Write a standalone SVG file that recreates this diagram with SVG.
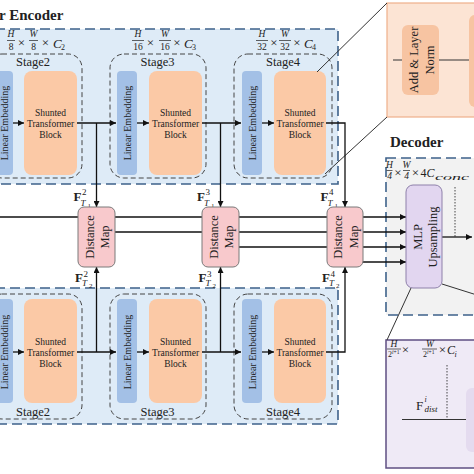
<svg xmlns="http://www.w3.org/2000/svg" width="474" height="474" viewBox="0 0 474 474">
<defs>
<marker id="ah" viewBox="0 0 10 10" refX="10" refY="5" markerWidth="7" markerHeight="6" orient="auto" markerUnits="userSpaceOnUse"><path d="M0,0 L10,5 L0,10 z" fill="#111"/></marker>
</defs>
<style>
text{font-family:"Liberation Serif","Times New Roman",serif;fill:#222}
.enc{fill:#deebf7;stroke:#3e628a;stroke-width:1.6;stroke-dasharray:10 5}
.dec{fill:#f2f2f2;stroke:#3e628a;stroke-width:1.6;stroke-dasharray:10 5}
.stage{fill:none;stroke:#444;stroke-width:1;stroke-dasharray:5 3}
.le{fill:#a3c0e6}
.stb{fill:#fbc9a6}
.dm{fill:#f8c9cc;stroke:#7a7a7a;stroke-width:1}
.mlp{fill:#e2d6f0;stroke:#8e80aa;stroke-width:1}
.ln{stroke:#111;stroke-width:1.3;fill:none}
.zl{stroke:#333;stroke-width:1;fill:none}
.tb{font-size:9.5px;text-anchor:middle}
.st{font-size:12.5px;text-anchor:middle}
.rot{font-size:10px;text-anchor:middle;dominant-baseline:central}
.rot2{font-size:12.5px;text-anchor:middle;dominant-baseline:central}
.fr{font-size:9.5px;text-anchor:middle}
.m{font-style:italic}
.x{font-size:13px;text-anchor:middle}
.ttl{font-size:15px;font-weight:bold}
.fb{font-size:13px;font-weight:bold}
.sm{font-size:9px}
.bar{stroke:#222;stroke-width:0.7}
</style>

<!-- Top encoder -->
<g id="encoder-top">
<rect class="enc" x="-20" y="29" width="358" height="155"/>
<text class="ttl" x="-1" y="20">r Encoder</text>
<text class="fr m" x="11" y="37">H</text><line class="bar" x1="7" y1="40.5" x2="15" y2="40.5"/><text class="fr" x="11" y="50">8</text>
<text class="x" x="21.5" y="46.5">×</text>
<text class="fr m" x="33.5" y="37">W</text><line class="bar" x1="29" y1="40.5" x2="38" y2="40.5"/><text class="fr" x="33.5" y="50">8</text>
<text class="x" x="45.5" y="46.5">×</text>
<text x="53" y="48" font-size="13" font-style="italic">C</text><text x="61" y="50" font-size="8">2</text>
<text class="fr m" x="138" y="37">H</text><line class="bar" x1="132" y1="40.5" x2="144" y2="40.5"/><text class="fr" x="138" y="50">16</text>
<text class="x" x="150.5" y="46.5">×</text>
<text class="fr m" x="165" y="37">W</text><line class="bar" x1="159" y1="40.5" x2="171" y2="40.5"/><text class="fr" x="165" y="50">16</text>
<text class="x" x="177" y="46.5">×</text>
<text x="184" y="48" font-size="13" font-style="italic">C</text><text x="192" y="50" font-size="8">3</text>
<text class="fr m" x="262" y="37">H</text><line class="bar" x1="256" y1="40.5" x2="268" y2="40.5"/><text class="fr" x="262" y="50">32</text>
<text class="x" x="274" y="46.5">×</text>
<text class="fr m" x="285" y="37">W</text><line class="bar" x1="279" y1="40.5" x2="291" y2="40.5"/><text class="fr" x="285" y="50">32</text>
<text class="x" x="297" y="46.5">×</text>
<text x="304" y="48" font-size="13" font-style="italic">C</text><text x="312" y="50" font-size="8">4</text>
</g>

<g id="stage2-top">
<rect class="stage" x="-12" y="54" width="94" height="124" rx="14"/>
<text class="st" x="33" y="66">Stage2</text>
<rect class="le" x="-6" y="71" width="19" height="104" rx="4"/>
<text class="rot" transform="translate(4,123) rotate(-90)">Linear Embedding</text>
<rect class="stb" x="24" y="71" width="53" height="104" rx="8"/>
<text class="tb" x="50.5" y="115.5">Shunted</text><text class="tb" x="50.5" y="126.5">Transformer</text><text class="tb" x="50.5" y="137.5">Block</text>
</g>
<g id="stage3-top">
<rect class="stage" x="110" y="54" width="96" height="124" rx="14"/>
<text class="st" x="157.5" y="66">Stage3</text>
<rect class="le" x="117" y="71" width="20" height="104" rx="4"/>
<text class="rot" transform="translate(127,123) rotate(-90)">Linear Embedding</text>
<rect class="stb" x="149" y="71" width="53" height="104" rx="8"/>
<text class="tb" x="175.5" y="115.5">Shunted</text><text class="tb" x="175.5" y="126.5">Transformer</text><text class="tb" x="175.5" y="137.5">Block</text>
</g>
<g id="stage4-top">
<rect class="stage" x="234" y="54" width="98" height="124" rx="14"/>
<text class="st" x="283" y="66">Stage4</text>
<rect class="le" x="242" y="71" width="20" height="104" rx="4"/>
<text class="rot" transform="translate(252,123) rotate(-90)">Linear Embedding</text>
<rect class="stb" x="274" y="71" width="52" height="104" rx="8"/>
<text class="tb" x="300" y="115.5">Shunted</text><text class="tb" x="300" y="126.5">Transformer</text><text class="tb" x="300" y="137.5">Block</text>
</g>

<!-- Bottom encoder -->
<g id="encoder-bottom">
<rect class="enc" x="-20" y="288" width="358" height="136"/>
</g>
<g id="stage2-bottom">
<rect class="stage" x="-12" y="294" width="94" height="125" rx="14"/>
<text class="st" x="33" y="416">Stage2</text>
<rect class="le" x="-6" y="299" width="19" height="104" rx="4"/>
<text class="rot" transform="translate(4,352) rotate(-90)">Linear Embedding</text>
<rect class="stb" x="24" y="299" width="53" height="104" rx="8"/>
<text class="tb" x="50.5" y="344.5">Shunted</text><text class="tb" x="50.5" y="355.5">Transformer</text><text class="tb" x="50.5" y="366.5">Block</text>
</g>
<g id="stage3-bottom">
<rect class="stage" x="110" y="294" width="96" height="125" rx="14"/>
<text class="st" x="157.5" y="416">Stage3</text>
<rect class="le" x="117" y="299" width="20" height="104" rx="4"/>
<text class="rot" transform="translate(127,352) rotate(-90)">Linear Embedding</text>
<rect class="stb" x="149" y="299" width="53" height="104" rx="8"/>
<text class="tb" x="175.5" y="344.5">Shunted</text><text class="tb" x="175.5" y="355.5">Transformer</text><text class="tb" x="175.5" y="366.5">Block</text>
</g>
<g id="stage4-bottom">
<rect class="stage" x="234" y="294" width="98" height="125" rx="14"/>
<text class="st" x="283" y="416">Stage4</text>
<rect class="le" x="242" y="299" width="20" height="104" rx="4"/>
<text class="rot" transform="translate(252,352) rotate(-90)">Linear Embedding</text>
<rect class="stb" x="274" y="299" width="52" height="104" rx="8"/>
<text class="tb" x="300" y="344.5">Shunted</text><text class="tb" x="300" y="355.5">Transformer</text><text class="tb" x="300" y="366.5">Block</text>
</g>

<!-- Transformer block detail (orange) -->
<g id="stb-detail">
<rect x="387" y="3" width="100" height="114" fill="#fce4d4" stroke="#eeb08a" stroke-width="1.2"/>
<line class="zl" x1="393" y1="60" x2="402" y2="60"/>
<line class="zl" x1="439" y1="60" x2="469" y2="60"/>
<rect x="402" y="25" width="37" height="70" rx="6" fill="#f7c4a2"/>
<text class="rot2" transform="translate(414,60) rotate(-90)">Add &amp; Layer</text>
<text class="rot2" transform="translate(430,60) rotate(-90)">Norm</text>
<rect x="469" y="15" width="20" height="92" rx="6" fill="#f7c4a2"/>
</g>

<!-- Decoder -->
<g id="decoder">
<rect class="dec" x="386" y="158" width="100" height="157"/>
<text class="ttl" x="390" y="147">Decoder</text>
<text class="fr m" x="389.5" y="168">H</text><line class="bar" x1="386.5" y1="170.5" x2="392.5" y2="170.5"/><text class="fr m" x="389.5" y="179">4</text>
<text class="x" x="398" y="177">×</text>
<text class="fr m" x="406.5" y="168">W</text><line class="bar" x1="403" y1="170.5" x2="410" y2="170.5"/><text class="fr m" x="406.5" y="179">4</text>
<text class="x" x="415.5" y="177">×</text>
<text x="420.5" y="177" font-size="12">4<tspan font-style="italic">C</tspan></text>
<text x="435" y="180" font-size="9" font-style="italic" textLength="34" lengthAdjust="spacingAndGlyphs">conc</text>
<line x1="455" y1="187" x2="455" y2="237" stroke="#333" stroke-width="0.9" stroke-dasharray="1.5 1.5"/>
</g>

<!-- Distance-map detail (purple) -->
<g id="dist-detail">
<rect x="386" y="340" width="100" height="128" fill="#efeaf6" stroke="#5f4f82" stroke-width="1.5"/>
<text class="fr m" x="394" y="346.5">H</text><line class="bar" x1="387" y1="349" x2="401" y2="349"/><text x="388" y="357" font-size="8">2<tspan font-size="5.5" dy="-3" font-style="italic">i</tspan><tspan font-size="5.5">+1</tspan></text>
<text class="x" x="405.5" y="354">×</text>
<text class="fr m" x="430" y="346.5">W</text><line class="bar" x1="422" y1="349" x2="437" y2="349"/><text x="423" y="357" font-size="8">2<tspan font-size="5.5" dy="-3" font-style="italic">i</tspan><tspan font-size="5.5">+1</tspan></text>
<text class="x" x="442.5" y="354">×</text>
<text x="447" y="354" font-size="12" font-style="italic">C</text><text x="454.5" y="357" font-size="8" font-style="italic">i</text>
<line x1="447" y1="365" x2="447" y2="419" stroke="#333" stroke-width="0.9" stroke-dasharray="1.5 1.5"/>
<text x="416" y="410" font-size="13">F</text><text x="424.5" y="402" font-size="8" font-style="italic">i</text><text x="424.5" y="412" font-size="9" font-style="italic">dist</text>
<line class="zl" x1="402" y1="419.5" x2="466" y2="419.5" stroke-width="1.3"/>
<rect x="466" y="388" width="20" height="64" rx="6" fill="#e4dbef"/>
</g>

<!-- Connectors -->
<g id="connectors">
<line class="zl" x1="317" y1="72" x2="387" y2="3"/>
<line class="zl" x1="325" y1="174" x2="387" y2="117"/>
<line class="zl" x1="411" y1="288" x2="387" y2="340"/>
<line class="zl" x1="442" y1="284" x2="480" y2="296"/>
<line class="ln" x1="13" y1="123" x2="24" y2="123" marker-end="url(#ah)"/>
<line class="ln" x1="77" y1="123" x2="116" y2="123" marker-end="url(#ah)"/>
<line class="ln" x1="137" y1="123" x2="149" y2="123" marker-end="url(#ah)"/>
<line class="ln" x1="202" y1="123" x2="241" y2="123" marker-end="url(#ah)"/>
<line class="ln" x1="262" y1="123" x2="274" y2="123" marker-end="url(#ah)"/>
<polyline class="ln" points="326,123 345,123 345,207" marker-end="url(#ah)"/>
<line class="ln" x1="96.5" y1="123" x2="96.5" y2="207" marker-end="url(#ah)"/>
<line class="ln" x1="220.5" y1="123" x2="220.5" y2="207" marker-end="url(#ah)"/>
<line class="ln" x1="13" y1="352" x2="24" y2="352" marker-end="url(#ah)"/>
<line class="ln" x1="77" y1="352" x2="116" y2="352" marker-end="url(#ah)"/>
<line class="ln" x1="137" y1="352" x2="149" y2="352" marker-end="url(#ah)"/>
<line class="ln" x1="202" y1="352" x2="241" y2="352" marker-end="url(#ah)"/>
<line class="ln" x1="262" y1="352" x2="274" y2="352" marker-end="url(#ah)"/>
<polyline class="ln" points="326,352 345,352 345,267" marker-end="url(#ah)"/>
<line class="ln" x1="96.5" y1="352" x2="96.5" y2="267" marker-end="url(#ah)"/>
<line class="ln" x1="220.5" y1="352" x2="220.5" y2="267" marker-end="url(#ah)"/>
<line class="ln" x1="0" y1="217" x2="406" y2="217" marker-end="url(#ah)"/>
<line class="ln" x1="96" y1="232" x2="406" y2="232" marker-end="url(#ah)"/>
<line class="ln" x1="220" y1="247" x2="406" y2="247" marker-end="url(#ah)"/>
<line class="ln" x1="345" y1="262" x2="406" y2="262" marker-end="url(#ah)"/>
<line class="ln" x1="442" y1="237" x2="472" y2="237" marker-end="url(#ah)"/>
<text x="73.5" y="201" class="fb">F</text><text x="82" y="194.5" class="sm">2</text><text x="80.5" y="205.5" class="sm m">T</text><text x="87.5" y="207.5" font-size="7">1</text>
<text x="75" y="282" class="fb">F</text><text x="83.5" y="276.5" class="sm">2</text><text x="82" y="285.5" class="sm m">T</text><text x="89" y="287.5" font-size="7">2</text>
<text x="197" y="201" class="fb">F</text><text x="205.5" y="194.5" class="sm">3</text><text x="204" y="205.5" class="sm m">T</text><text x="211" y="207.5" font-size="7">1</text>
<text x="198.5" y="282" class="fb">F</text><text x="207" y="276.5" class="sm">3</text><text x="205.5" y="285.5" class="sm m">T</text><text x="212.5" y="287.5" font-size="7">2</text>
<text x="320.5" y="201" class="fb">F</text><text x="329" y="194.5" class="sm">4</text><text x="327.5" y="205.5" class="sm m">T</text><text x="334.5" y="207.5" font-size="7">1</text>
<text x="322" y="282" class="fb">F</text><text x="330.5" y="276.5" class="sm">4</text><text x="329" y="285.5" class="sm m">T</text><text x="336" y="287.5" font-size="7">2</text>
</g>

<g id="dm2">
<rect class="dm" x="78" y="207" width="37" height="60" rx="6"/>
<text class="rot2" transform="translate(89.5,237) rotate(-90)">Distance</text>
<text class="rot2" transform="translate(105,237) rotate(-90)">Map</text>
</g>
<g id="dm3">
<rect class="dm" x="202" y="207" width="37" height="60" rx="6"/>
<text class="rot2" transform="translate(213.5,237) rotate(-90)">Distance</text>
<text class="rot2" transform="translate(229,237) rotate(-90)">Map</text>
</g>
<g id="dm4">
<rect class="dm" x="327" y="207" width="36" height="60" rx="6"/>
<text class="rot2" transform="translate(338,237) rotate(-90)">Distance</text>
<text class="rot2" transform="translate(353.5,237) rotate(-90)">Map</text>
</g>

<g id="mlp">
<rect class="mlp" x="406" y="185" width="36" height="103" rx="7"/>
<text class="rot2" transform="translate(418,237) rotate(-90)">MLP</text>
<text class="rot2" transform="translate(433,237) rotate(-90)">Upsampling</text>
</g>
</svg>
